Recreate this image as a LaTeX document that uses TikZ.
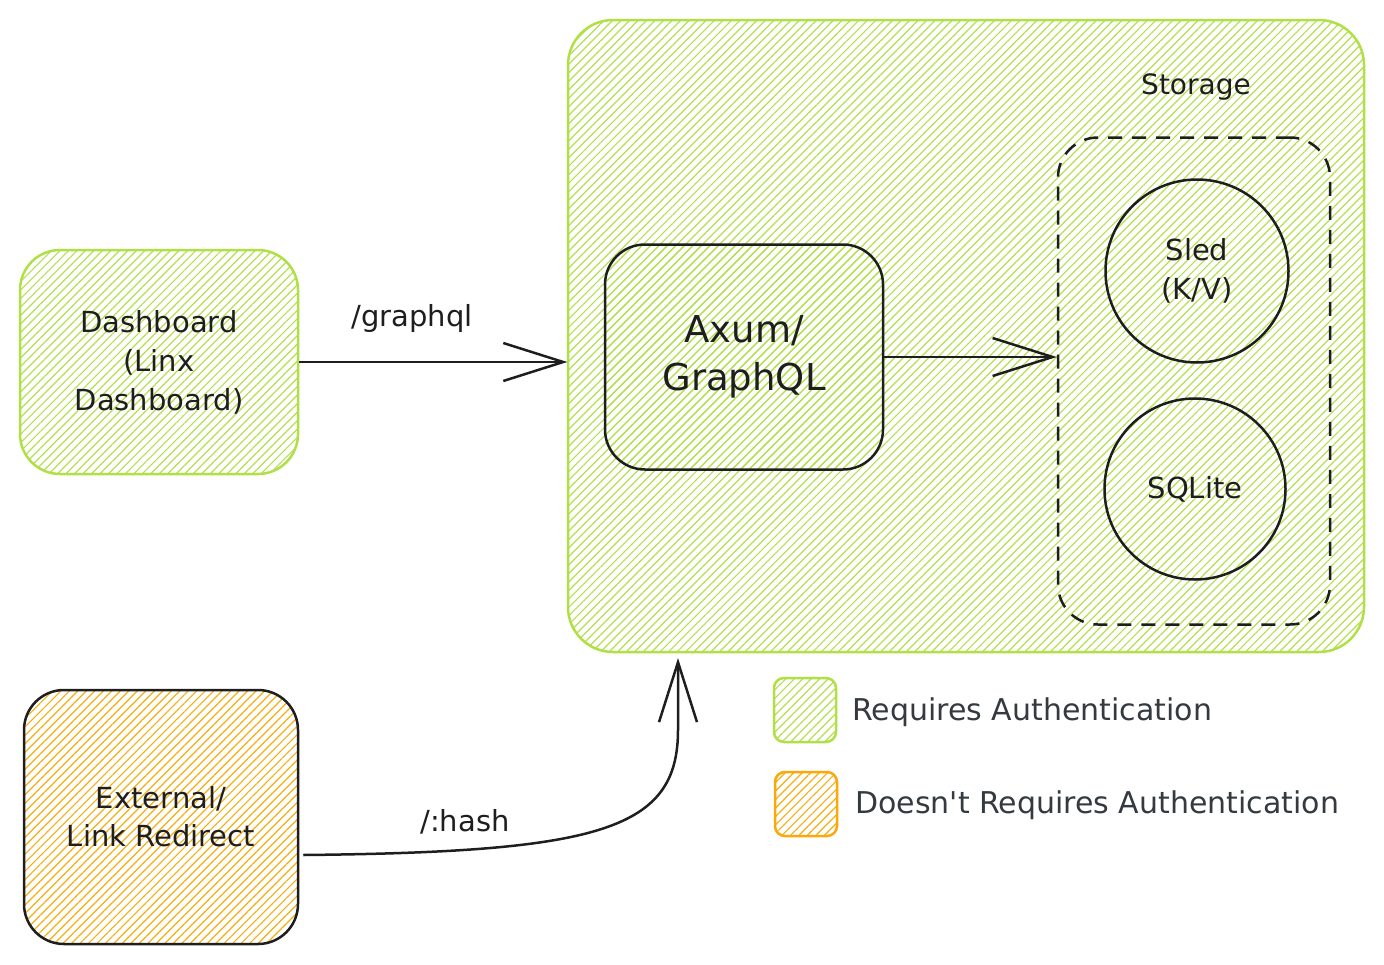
\documentclass[tikz,border=0pt]{standalone}
\usepackage{fontspec}
\setmainfont{DejaVu Sans}
\usetikzlibrary{arrows.meta,patterns.meta,calc}
\definecolor{limeline}{HTML}{B0E046}
\definecolor{limehatch}{HTML}{B2E050}
\definecolor{orangehatch}{HTML}{F5AE12}
\definecolor{orangeline}{HTML}{FCA80A}
\definecolor{ink}{HTML}{1E1E1E}
\definecolor{legendink}{HTML}{343A40}
\tikzset{
 greenhatch/.style={pattern={Lines[angle=45,distance=6pt,line width=1.2pt]},pattern color=limehatch},
 orangehatchfill/.style={pattern={Lines[angle=45,distance=6pt,line width=1.2pt]},pattern color=orangehatch},
 box/.style={rectangle, rounded corners=40pt, line width=2.5pt, align=center, inner sep=0pt, text=ink},
 txt/.style={font=\fontsize{29}{39}\selectfont, text=ink, align=center, inner sep=0pt},
 legtxt/.style={font=\fontsize{30}{34}\selectfont, text=legendink, anchor=west, inner sep=0pt},
 arr/.style={line width=2.5pt, draw=ink, -{Straight Barb[length=60pt,width=38pt]}},
}
\begin{document}
\begin{tikzpicture}[x=1pt,y=-1pt]
\useasboundingbox (0,0) rectangle (1384,964);
% big authenticated area
\node[box, draw=limeline, greenhatch, minimum width=796pt, minimum height=632pt, rounded corners=45pt] (big) at (966,336) {};
\node[txt, font=\fontsize{28}{30}\selectfont] (storagelbl) at (1196,87) {Storage};
% storage dashed group
\node[box, draw=ink, dash pattern=on 14pt off 10pt, minimum width=272pt, minimum height=487pt] (store) at (1194,381) {};
\node[circle, draw=ink, line width=2.5pt, minimum size=183pt, txt] (sled) at (1197,271) {Sled\\(K/V)};
\node[circle, draw=ink, line width=2.5pt, minimum size=181pt, txt] (sqlite) at (1195,489) {SQLite};
% axum
\node[box, draw=ink, greenhatch, minimum width=278pt, minimum height=225pt, font=\fontsize{37}{48}\selectfont] (axum) at (744,357) {Axum/\\GraphQL};
% dashboard
\node[box, draw=limeline, greenhatch, minimum width=278pt, minimum height=224pt, font=\fontsize{29}{39}\selectfont] (dash) at (159,362) {Dashboard\\(Linx\\Dashboard)};
% external
\node[box, draw=ink, orangehatchfill, minimum width=274pt, minimum height=254pt, font=\fontsize{29}{38}\selectfont] (ext) at (161,817) {External/\\Link Redirect};
% connectors
\draw[arr] (dash.east) -- (dash.east -| big.west);
\draw[arr] (axum.east) -- (axum.east -| store.west);
\coordinate (hashend) at (678,658);
\draw[arr] ([shift={(4,38)}]ext.east) .. controls (600,852) and (678,830) .. (678,730) -- (hashend);
\node[txt] (gqllbl) at (412,318) {/graphql};
\node[txt] (hashlbl) at (465,822) {/:hash};
% legend
\node[rectangle, rounded corners=10pt, line width=2.5pt, draw=limeline, greenhatch, minimum width=62pt, minimum height=64pt] (leggreen) at (805,710) {};
\node[rectangle, rounded corners=10pt, line width=2.5pt, draw=orangeline, orangehatchfill, minimum width=62pt, minimum height=64pt] (legorange) at (806,804) {};
\node[legtxt] (legreq) at (852,712) {Requires Authentication};
\node[legtxt] (legnoreq) at (855,805) {Doesn\textquotesingle t Requires Authentication};
\end{tikzpicture}
\end{document}
